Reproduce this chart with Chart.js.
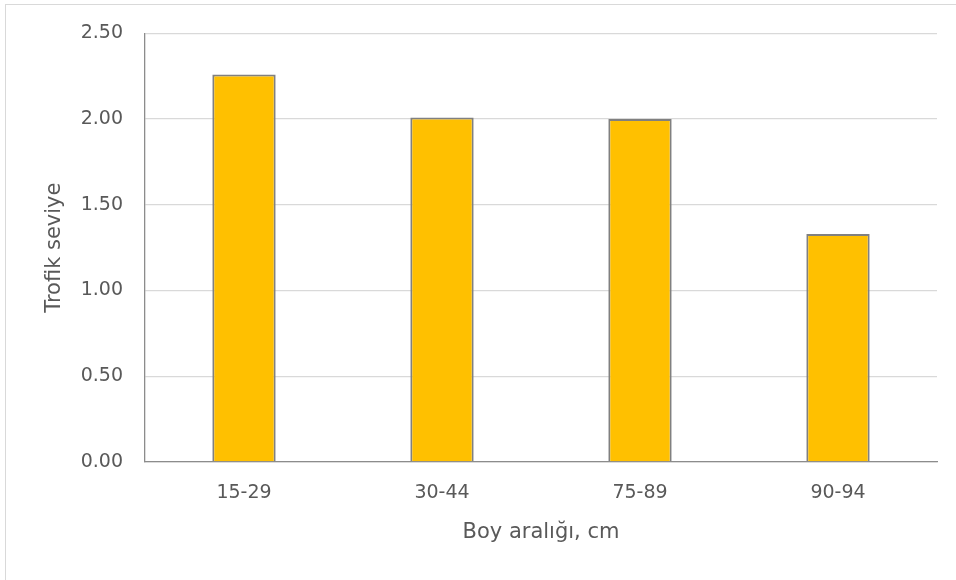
<!DOCTYPE html>
<html>
<head>
<meta charset="utf-8">
<title>Trofik seviye</title>
<script src="https://cdn.jsdelivr.net/npm/chart.js@4.4.1/dist/chart.umd.min.js"></script>
<style>
  html, body { margin: 0; padding: 0; background: #ffffff; }
  #wrap { position: relative; width: 956px; height: 580px; overflow: hidden; }
  canvas { display: block; }
</style>
</head>
<body>
<div id="wrap"><canvas id="chart" width="956" height="580"></canvas></div>
<script>
// Size classes (cm) and their trophic level
const categories = ['15-29', '30-44', '75-89', '90-94'];
const trophicLevel = [2.26, 2.01, 2.00, 1.33];
const yTicks = [0, 0.5, 1.0, 1.5, 2.0, 2.5];

const xTitle = 'Boy aralığı, cm';
const yTitle = 'Trofik seviye';

const FONT = 'DejaVu Sans';
const TEXT = '#595959';

// Light frame around the whole chart
const framePlugin = {
  id: 'frame',
  beforeDraw(chart) {
    const ctx = chart.ctx;
    ctx.save();
    ctx.fillStyle = '#ffffff';
    ctx.fillRect(0, 0, chart.width, chart.height);
    ctx.strokeStyle = '#d9d9d9';
    ctx.lineWidth = 1;
    ctx.strokeRect(5.5, 4.5, chart.width + 10, chart.height + 10);
    ctx.restore();
  }
};

new Chart(document.getElementById('chart'), {
  type: 'bar',
  data: {
    labels: categories,
    datasets: [{
      data: trophicLevel,
      backgroundColor: '#FFC000',
      borderColor: '#808080',
      borderWidth: 2,
      borderSkipped: 'start',
      barPercentage: 0.32,
      categoryPercentage: 1.0
    }]
  },
  plugins: [framePlugin],
  options: {
    responsive: false,
    animation: false,
    devicePixelRatio: 1,
    layout: { padding: { left: 0, right: 19, top: 33, bottom: 0 } },
    plugins: {
      legend: { display: false },
      tooltip: { enabled: false }
    },
    scales: {
      x: {
        grid: { display: false, drawTicks: false },
        border: { display: true, color: '#8c8c8c', width: 1.3 },
        ticks: {
          color: TEXT,
          font: { family: FONT, size: 19 },
          padding: 20,
          maxRotation: 0
        },
        title: {
          display: true,
          text: xTitle,
          color: TEXT,
          font: { family: FONT, size: 21 },
          padding: { top: 0, bottom: 35 }
        },
        afterFit(scale) { scale.height = 118; }
      },
      y: {
        min: 0,
        max: 2.5,
        afterBuildTicks(scale) { scale.ticks = yTicks.map(v => ({ value: v })); },
        grid: { color: '#d9d9d9', lineWidth: 1.3, drawTicks: false },
        border: { display: true, color: '#8c8c8c', width: 1.3 },
        ticks: {
          color: TEXT,
          font: { family: FONT, size: 19 },
          padding: 22,
          callback: v => Number(v).toFixed(2)
        },
        title: {
          display: true,
          text: yTitle,
          color: TEXT,
          font: { family: FONT, size: 21 },
          padding: { top: 42, bottom: 0 }
        },
        afterFit(scale) { scale.width = 145; }
      }
    }
  }
});
</script>
</body>
</html>
